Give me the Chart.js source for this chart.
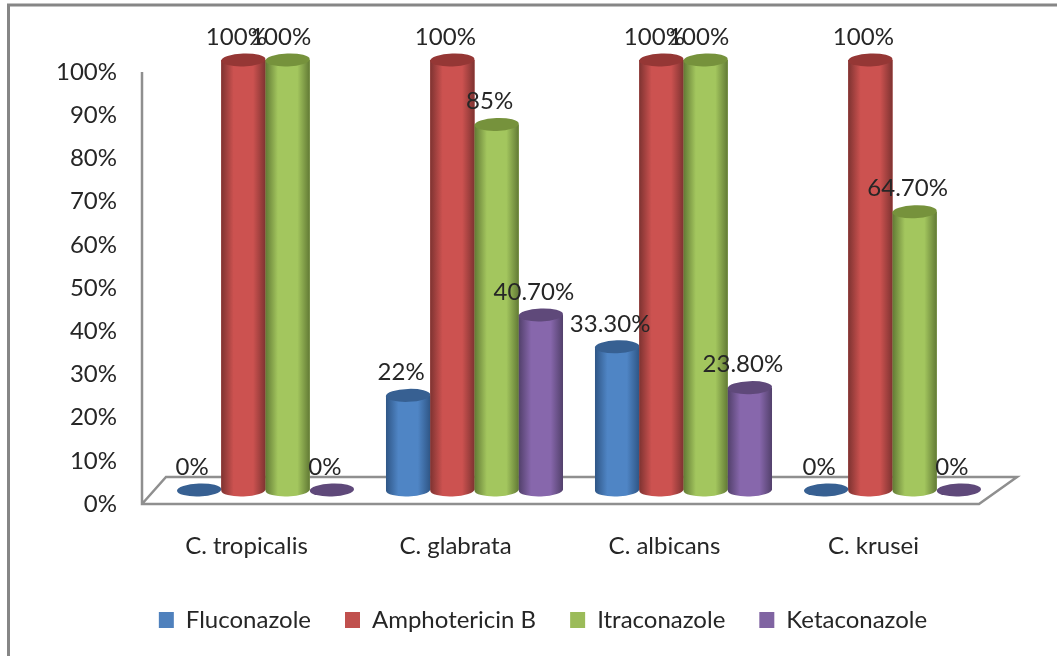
<!DOCTYPE html>
<html>
<head>
<meta charset="utf-8">
<title>Antifungal susceptibility</title>
<script src="https://cdn.jsdelivr.net/npm/chart.js@4"></script>
<style>
  html, body { margin: 0; padding: 0; background: #fff; }
  canvas { display: block; }
</style>
</head>
<body>
<canvas id="barChart" width="1057" height="656"></canvas>
<script>
const categories = ['C. tropicalis', 'C. glabrata', 'C. albicans', 'C. krusei'];
const fluconazole = [0, 22, 33.3, 0];
const amphotericinB = [100, 100, 100, 100];
const itraconazole = [100, 85, 100, 64.7];
const ketaconazole = [0, 40.7, 23.8, 0];
const tickLabels = ['0%', '10%', '20%', '30%', '40%', '50%', '60%', '70%', '80%', '90%', '100%'];

const FONT = 'Lato, Carlito, "Open Sans", sans-serif';
const TEXT = '#262626';

// colours of each cylinder: flat, lit body, shaded edge, top cap
const shades = [
    { base: '#4f81bd', lit: '#4f85c5', edge: '#2f5686', cap: '#376092' },
    { base: '#c0504d', lit: '#cc5250', edge: '#7e3331', cap: '#953735' },
    { base: '#9bbb59', lit: '#a3c65e', edge: '#627a35', cap: '#76923c' },
    { base: '#8064a2', lit: '#8767ac', edge: '#52406b', cap: '#5f497a' }
];

function formatValue(v) {
    return Number.isInteger(v) ? v + '%' : v.toFixed(2) + '%';
}

// frame, back wall line and the floor of the 3d box
const boxPlugin = {
    id: 'box',
    afterLayout(chart) {
        // legend is centred on the box, not on the canvas
        chart.legend.left = 89;
        chart.legend.right = 997;
    },
    beforeDatasetsDraw(chart) {
        const c = chart.ctx;
        const area = chart.chartArea;
        const y = chart.scales.y;
        const front = y.getPixelForValue(0);
        const top = y.getPixelForValue(100);
        const back = front - 27;
        c.save();
        c.strokeStyle = '#8f8f8f';
        c.lineWidth = 2.5;
        c.lineJoin = 'miter';
        c.beginPath();
        c.moveTo(area.left - 19, top);
        c.lineTo(area.left - 19, front);
        c.lineTo(area.right - 18, front);
        c.lineTo(area.right + 20, back);
        c.lineTo(area.left + 5, back);
        c.lineTo(area.left - 19, front);
        c.stroke();
        c.strokeStyle = '#868686';
        c.lineWidth = 3;
        c.beginPath();
        c.moveTo(8.5, 656);
        c.lineTo(8.5, 5);
        c.lineTo(1057, 5);
        c.stroke();
        c.restore();
    }
};

// repaints every bar as a cylinder, then puts the value labels on top
const cylinderPlugin = {
    id: 'cylinder',
    afterDatasetsDraw(chart) {
        const c = chart.ctx;
        const ry = 6.5;
        const tilt = -0.035;
        chart.data.datasets.forEach(function (ds, i) {
            const shade = shades[i];
            chart.getDatasetMeta(i).data.forEach(function (bar) {
                const rx = bar.width / 2;
                const left = bar.x - rx;
                const right = bar.x + rx;
                c.save();
                if (bar.base - bar.y > 1) {
                    const g = c.createLinearGradient(left, 0, right, 0);
                    g.addColorStop(0, shade.edge);
                    g.addColorStop(0.28, shade.lit);
                    g.addColorStop(0.72, shade.lit);
                    g.addColorStop(1, shade.edge);
                    c.fillStyle = g;
                    c.beginPath();
                    c.moveTo(left, bar.y);
                    c.lineTo(left, bar.base);
                    c.ellipse(bar.x, bar.base, rx, ry, tilt, Math.PI, 0, true);
                    c.lineTo(right, bar.y);
                    c.closePath();
                    c.fill();
                }
                c.fillStyle = shade.cap;
                c.beginPath();
                c.ellipse(bar.x, bar.y, rx, ry, tilt, 0, Math.PI * 2);
                c.fill();
                c.restore();
            });
        });
        c.save();
        c.font = '24px ' + FONT;
        c.fillStyle = TEXT;
        c.textAlign = 'center';
        c.textBaseline = 'middle';
        chart.data.datasets.forEach(function (ds, i) {
            chart.getDatasetMeta(i).data.forEach(function (bar, j) {
                c.fillText(formatValue(ds.data[j]), bar.x - 7, bar.y - 23);
            });
        });
        c.restore();
    }
};

const series = [
    { label: 'Fluconazole', data: fluconazole },
    { label: 'Amphotericin B', data: amphotericinB },
    { label: 'Itraconazole', data: itraconazole },
    { label: 'Ketaconazole', data: ketaconazole }
];

new Chart(document.getElementById('barChart').getContext('2d'), {
    type: 'bar',
    data: {
        labels: categories,
        datasets: series.map(function (s, i) {
            return {
                label: s.label,
                data: s.data,
                yAxisID: 'yBars',
                backgroundColor: shades[i].base,
                categoryPercentage: 0.847,
                barPercentage: 1,
                clip: false
            };
        })
    },
    options: {
        responsive: false,
        animation: false,
        layout: { padding: { left: 30, right: 60, top: 72, bottom: 14 } },
        plugins: {
            tooltip: { enabled: false },
            legend: {
                position: 'bottom',
                labels: {
                    boxWidth: 15,
                    boxHeight: 16,
                    padding: 34,
                    color: TEXT,
                    font: { family: FONT, size: 24 }
                }
            }
        },
        scales: {
            x: {
                grid: { display: false },
                border: { display: false },
                afterFit: function (s) { s.height = 70; },
                ticks: {
                    color: TEXT,
                    padding: 20,
                    labelOffset: -19,
                    maxRotation: 0,
                    font: { family: FONT, size: 24 }
                }
            },
            y: {
                position: 'left',
                min: 0,
                max: 100,
                grid: { display: false, drawTicks: false },
                border: { display: false },
                afterFit: function (s) { s.width = 131; },
                ticks: {
                    stepSize: 10,
                    color: TEXT,
                    padding: 44,
                    font: { family: FONT, size: 24 },
                    callback: function (v, i) { return tickLabels[i]; }
                }
            },
            // the columns stand a little behind the axis, so they get their own scale
            yBars: {
                display: false,
                min: -3.26,
                max: 97.2
            }
        }
    },
    plugins: [boxPlugin, cylinderPlugin]
});
</script>
</body>
</html>
